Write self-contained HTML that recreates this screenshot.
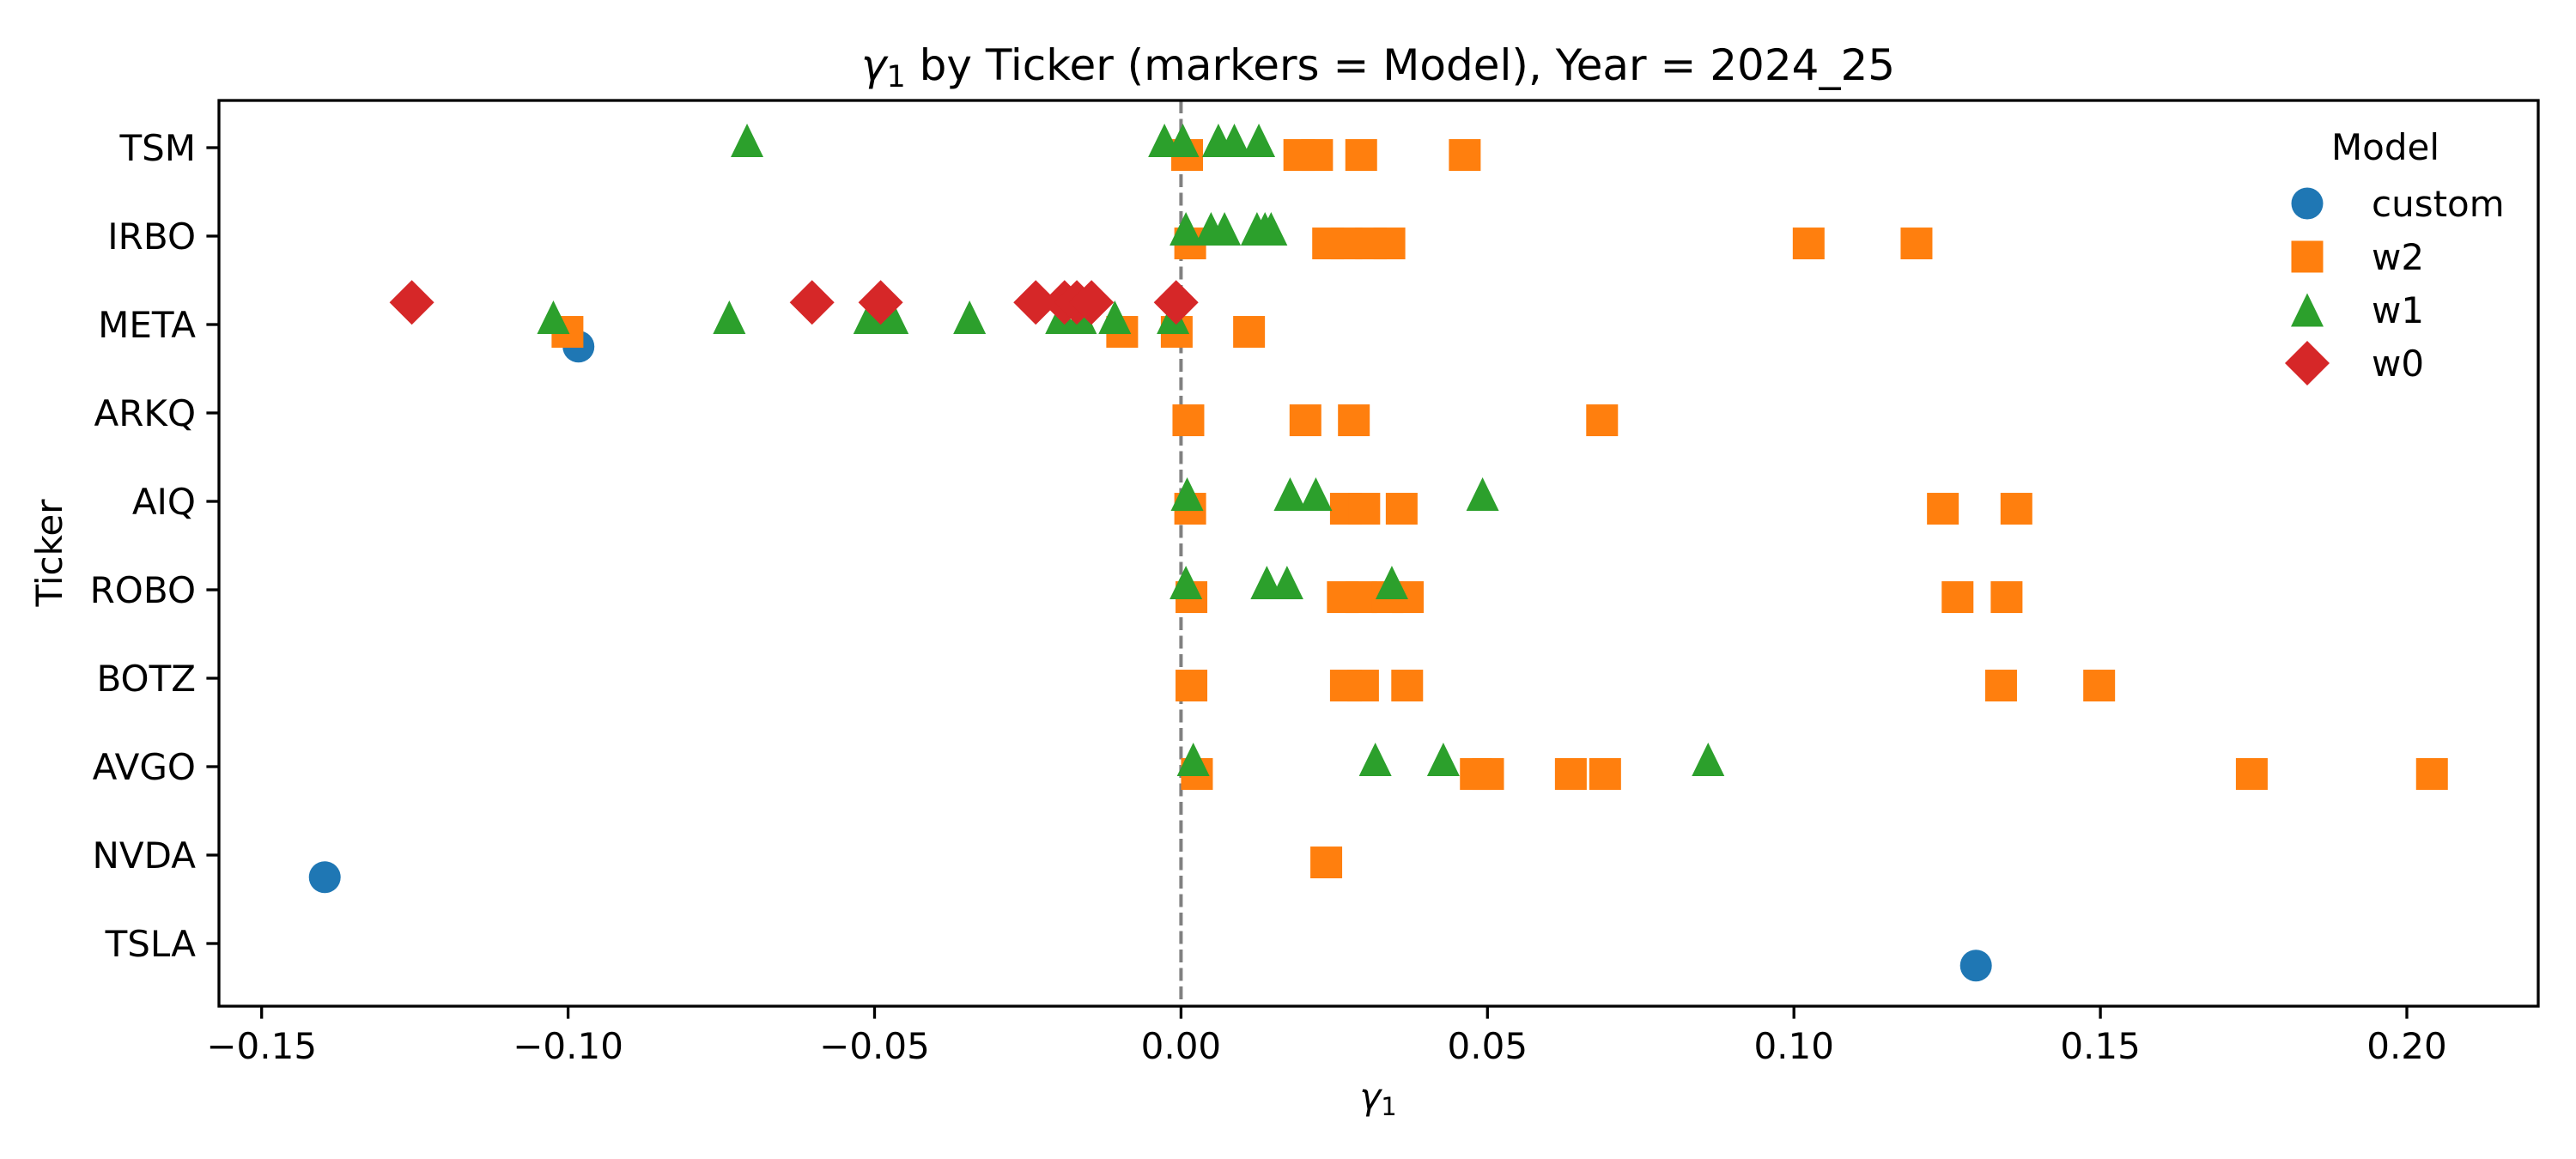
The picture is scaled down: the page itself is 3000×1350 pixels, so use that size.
<!DOCTYPE html>
<html><head><meta charset="utf-8"><style>
html,body{margin:0;padding:0;background:#fff;}
svg{display:block;font-family:"DejaVu Sans","Liberation Sans",sans-serif;}
</style></head><body>
<svg id="chart" width="3000" height="1350" viewBox="0 0 3000 1350" xmlns="http://www.w3.org/2000/svg">
<rect width="3000" height="1350" fill="#fff"/>
<text x="1605" y="93" font-size="50" text-anchor="middle"><tspan font-style="italic">γ</tspan><tspan font-size="35" dy="8">1</tspan><tspan dy="-8"> by Ticker (markers = Model), Year = 2024_25</tspan></text>
<g id="marks"></g>
<g id="axes"></g>
<text x="1605" y="1292" font-size="42" text-anchor="middle"><tspan font-style="italic">γ</tspan><tspan font-size="29" dy="7">1</tspan></text>
<text x="0" y="0" font-size="42" text-anchor="middle" transform="translate(72,644) rotate(-90)">Ticker</text>
<g id="legend"></g>
</svg>
<script>
const tickers = ["TSM","IRBO","META","ARKQ","AIQ","ROBO","BOTZ","AVGO","NVDA","TSLA"];
const models = ["custom","w2","w1","w0"];
const colors = ["#1f77b4","#ff7f0e","#2ca02c","#d62728"];
const xTicks = [-0.15,-0.10,-0.05,0.00,0.05,0.10,0.15,0.20];
const xTickLabels = ["\u22120.15","\u22120.10","\u22120.05","0.00","0.05","0.10","0.15","0.20"];
// values per model: [ticker, value]
const customPts = [["META",-0.0983],["NVDA",-0.1397],["TSLA",0.1297]];
const w2Pts = [
 ["TSM",0.001],["TSM",0.0193],["TSM",0.0222],["TSM",0.0294],["TSM",0.0463],
 ["IRBO",0.0015],["IRBO",0.024],["IRBO",0.027],["IRBO",0.031],["IRBO",0.034],["IRBO",0.1024],["IRBO",0.1200],
 ["META",-0.1001],["META",-0.0096],["META",-0.0007],["META",0.0111],
 ["ARKQ",0.0012],["ARKQ",0.0203],["ARKQ",0.0282],["ARKQ",0.0687],
 ["AIQ",0.0015],["AIQ",0.0269],["AIQ",0.0299],["AIQ",0.036],["AIQ",0.1243],["AIQ",0.1363],
 ["ROBO",0.0017],["ROBO",0.0264],["ROBO",0.0294],["ROBO",0.0337],["ROBO",0.037],["ROBO",0.1267],["ROBO",0.1347],
 ["BOTZ",0.0017],["BOTZ",0.0269],["BOTZ",0.0297],["BOTZ",0.0369],["BOTZ",0.1338],["BOTZ",0.1498],
 ["AVGO",0.0026],["AVGO",0.0481],["AVGO",0.0501],["AVGO",0.0636],["AVGO",0.0692],["AVGO",0.1747],["AVGO",0.2041],
 ["NVDA",0.0237]];
const w1Pts = [
 ["TSM",-0.0708],["TSM",-0.0027],["TSM",0.0003],["TSM",0.0061],["TSM",0.0087],["TSM",0.0127],
 ["IRBO",0.0008],["IRBO",0.0049],["IRBO",0.0071],["IRBO",0.0124],["IRBO",0.0137],["IRBO",0.0147],
 ["META",-0.1024],["META",-0.0737],["META",-0.0508],["META",-0.0471],["META",-0.0345],["META",-0.0195],["META",-0.0164],["META",-0.0108],["META",-0.0013],
 ["AIQ",0.001],["AIQ",0.0178],["AIQ",0.022],["AIQ",0.0492],
 ["ROBO",0.0008],["ROBO",0.014],["ROBO",0.0173],["ROBO",0.0344],
 ["AVGO",0.002],["AVGO",0.0317],["AVGO",0.0428],["AVGO",0.086]];
const w0Pts = [["META",-0.1255],["META",-0.0602],["META",-0.049],["META",-0.0237],["META",-0.019],["META",-0.017],["META",-0.0146],["META",-0.0008]];
const seriesPts = [customPts,w2Pts,w1Pts,w0Pts];

const NS="http://www.w3.org/2000/svg";
const L=255,R=2956,T=117,B=1172;
const x0=1375.4, pxPerUnit=7138;
function xs(v){return x0+v*pxPerUnit;}
function ys(t){return 172+tickers.indexOf(t)*103;}
const offs=[0.25,0.083,-0.083,-0.25];
function mk(tag,attrs,parent){const e=document.createElementNS(NS,tag);for(const k in attrs)e.setAttribute(k,attrs[k]);parent.appendChild(e);return e;}
function marker(kind,cx,cy,color,parent){
  let e;
  if(kind===0) e=mk("circle",{cx:cx,cy:cy,r:18.5,fill:color},parent);
  else if(kind===1) e=mk("rect",{x:cx-18.5,y:cy-18.5,width:37,height:37,fill:color},parent);
  else if(kind===2) e=mk("polygon",{points:`${cx},${cy-19.5} ${cx-19},${cy+19.5} ${cx+19},${cy+19.5}`,fill:color},parent);
  else e=mk("polygon",{points:`${cx},${cy-26} ${cx+26},${cy} ${cx},${cy+26} ${cx-26},${cy}`,fill:color},parent);
  return e;
}
const marks=document.getElementById("marks");
const zl=mk("line",{x1:xs(0),x2:xs(0),y1:T,y2:B,stroke:"#808080","stroke-width":4,"stroke-dasharray":"15 6.5"},marks);


seriesPts.forEach((pts,m)=>{
  pts.forEach(p=>{
    const e=marker(m,xs(p[1]),ys(p[0])+offs[m]*103,colors[m],marks);
    
    
  });
});
const axes=document.getElementById("axes");
const frame=mk("rect",{x:L,y:T,width:R-L,height:B-T,fill:"none",stroke:"#000","stroke-width":3.3},axes);


xTicks.forEach((v,i)=>{
  const tk=mk("line",{x1:xs(v),x2:xs(v),y1:B,y2:B+14.6,stroke:"#000","stroke-width":3.3},axes);
  
  
  const t=mk("text",{x:xs(v),y:1233,"font-size":42,"text-anchor":"middle"},axes);
  t.textContent=xTickLabels[i];
  
  
});
tickers.forEach(tk=>{
  const y=ys(tk);
  const l=mk("line",{x1:L-14.6,x2:L,y1:y,y2:y,stroke:"#000","stroke-width":3.3},axes);
  
  
  const t=mk("text",{x:L-27,y:y+15,"font-size":42,"text-anchor":"end"},axes);
  t.textContent=tk;
  
  
});
const lg=document.getElementById("legend");
const lt=mk("text",{x:2778,y:186,"font-size":42,"text-anchor":"middle"},lg);
lt.textContent="Model";


models.forEach((m,i)=>{
  const y=237+i*62;
  const e=marker(i,2687,y,colors[i],lg);
  
  
  const t=mk("text",{x:2762,y:y+15,"font-size":42},lg);
  t.textContent=m;
  
  
});
</script>
</body></html>
